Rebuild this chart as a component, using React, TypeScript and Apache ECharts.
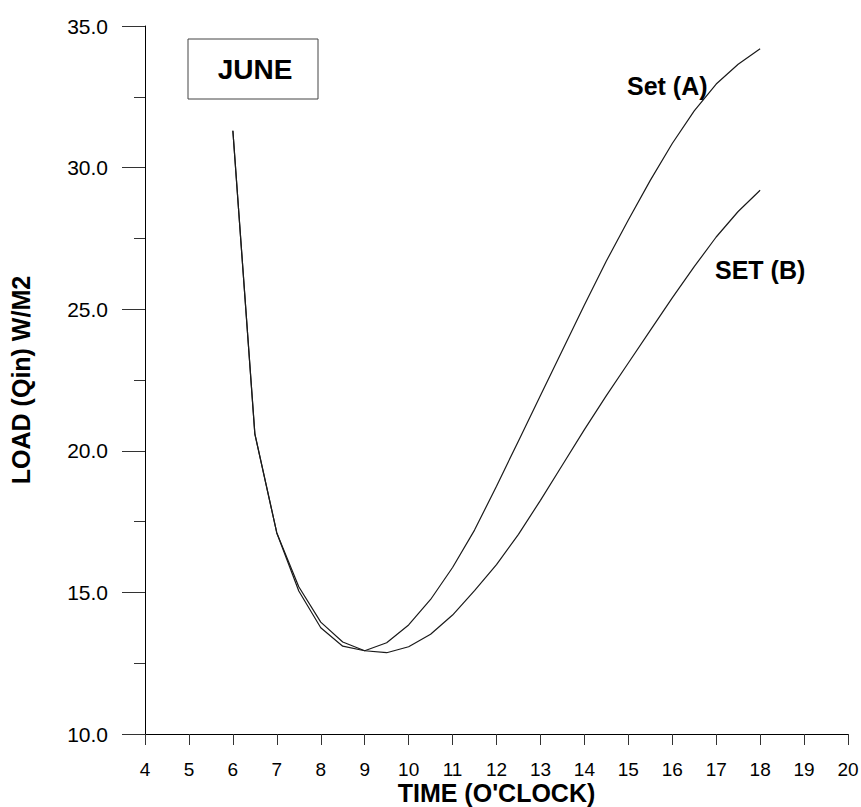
import React, { useEffect, useRef } from "react";
import * as echarts from "echarts";

const hours = [6, 6.5, 7, 7.5, 8, 8.5, 9, 9.5, 10, 10.5, 11, 11.5, 12, 12.5, 13, 13.5, 14, 14.5, 15, 15.5, 16, 16.5, 17, 17.5, 18];
const setA = [31.3, 20.6, 17.1, 15.2, 13.95, 13.25, 12.94, 13.22, 13.85, 14.75, 15.88, 17.2, 18.75, 20.35, 21.95, 23.55, 25.15, 26.7, 28.15, 29.55, 30.85, 32.0, 32.95, 33.65, 34.2];
const setB = [31.3, 20.6, 17.1, 15.05, 13.75, 13.1, 12.94, 12.87, 13.08, 13.52, 14.2, 15.06, 15.98, 17.05, 18.25, 19.5, 20.75, 21.95, 23.1, 24.25, 25.4, 26.5, 27.55, 28.45, 29.2];
const seriesNames = ["Set (A)", "SET (B)"];
const monthLabel = "JUNE";
const xTitle = "TIME (O'CLOCK)";
const yTitle = "LOAD (Qin) W/M2";

const FONT = "'Liberation Sans', Arial, sans-serif";

export default function App() {
  const ref = useRef<HTMLDivElement>(null);
  useEffect(() => {
    if (!ref.current) return;
    const chart = echarts.init(ref.current, undefined, { renderer: "svg" });
    const toPairs = (ys: number[]) => hours.map((h, i) => [h, ys[i]]);
    chart.setOption({
      animation: false,
      backgroundColor: "#ffffff",
      grid: { left: 145, right: 13, top: 26, bottom: 73, containLabel: false, outerBoundsMode: "none" },
      xAxis: {
        type: "value",
        min: 4,
        max: 20,
        interval: 1,
        name: xTitle,
        nameLocation: "middle",
        nameGap: 46,
        nameMoveOverlap: false,
        nameTextStyle: { fontFamily: FONT, fontWeight: "bold", fontSize: 25, color: "#000" },
        axisLine: { show: true, onZero: false, lineStyle: { color: "#000", width: 1 } },
        axisTick: { show: true, inside: false, length: 11, lineStyle: { color: "#333" } },
        splitLine: { show: false },
        axisLabel: {
          margin: 26,
          fontFamily: FONT,
          fontSize: 19,
          color: "#000",
        },
      },
      yAxis: {
        type: "value",
        min: 10,
        max: 35,
        interval: 5,
        name: yTitle,
        nameLocation: "middle",
        nameGap: 112,
        nameRotate: 90,
        nameMoveOverlap: false,
        nameTextStyle: { fontFamily: FONT, fontWeight: "bold", fontSize: 25, color: "#000" },
        axisLine: { show: true, lineStyle: { color: "#000", width: 1 } },
        axisTick: { show: true, inside: false, length: 23, lineStyle: { color: "#333" } },
        minorTick: { show: true, splitNumber: 2, length: 11, lineStyle: { color: "#333" } },
        splitLine: { show: false },
        axisLabel: {
          margin: 37,
          fontFamily: FONT,
          fontSize: 21,
          color: "#000",
          formatter: (v: number) => v.toFixed(1),
        },
      },
      graphic: [
        {
          type: "rect",
          shape: { x: 188, y: 39, width: 130, height: 60 },
          style: { fill: "#fff", stroke: "#444", lineWidth: 1 },
        },
        {
          type: "text",
          x: 255,
          y: 69,
          style: {
            text: monthLabel,
            fontFamily: FONT,
            fontWeight: "bold",
            fontSize: 28,
            fill: "#000",
            textAlign: "center",
            textVerticalAlign: "middle",
          },
        },
        {
          type: "text",
          x: 627,
          y: 86,
          z: 10,
          style: {
            text: seriesNames[0],
            fontFamily: FONT,
            fontWeight: "bold",
            fontSize: 25,
            fill: "#000",
            textAlign: "left",
            textVerticalAlign: "middle",
          },
        },
        {
          type: "text",
          x: 715,
          y: 270,
          z: 10,
          style: {
            text: seriesNames[1],
            fontFamily: FONT,
            fontWeight: "bold",
            fontSize: 25,
            fill: "#000",
            textAlign: "left",
            textVerticalAlign: "middle",
          },
        },
      ],
      series: [
        {
          name: seriesNames[0],
          type: "line",
          data: toPairs(setA),
          showSymbol: false,
          symbol: "none",
          smooth: false,
          lineStyle: { color: "#1a1a1a", width: 1.2 },
        },
        {
          name: seriesNames[1],
          type: "line",
          data: toPairs(setB),
          showSymbol: false,
          symbol: "none",
          smooth: false,
          lineStyle: { color: "#1a1a1a", width: 1.2 },
        },
      ],
    });
    return () => chart.dispose();
  }, []);
  return (
    <div
      ref={ref}
      style={{ position: "fixed", left: 0, top: 0, width: 861, height: 807, background: "#fff" }}
    />
  );
}
